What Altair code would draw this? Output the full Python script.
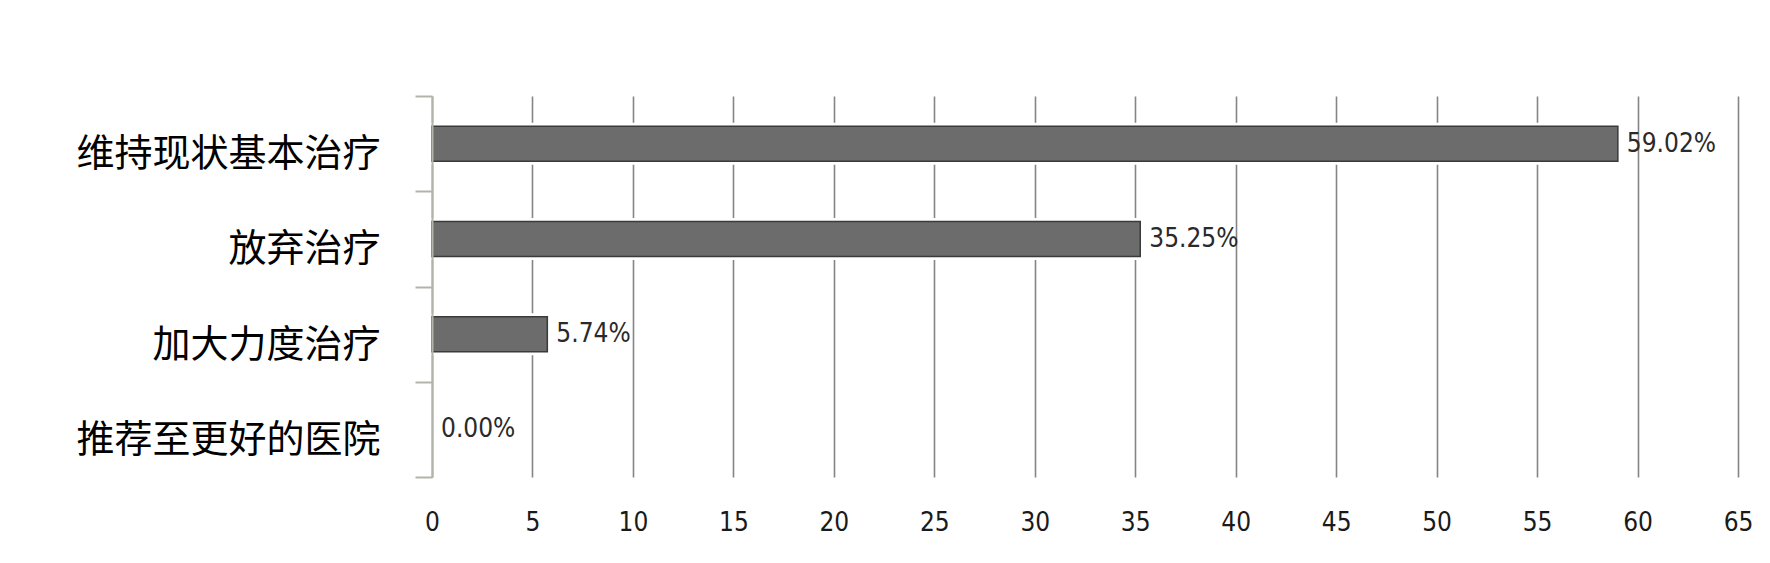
import altair as alt
import pandas as pd

categories = ["维持现状基本治疗", "放弃治疗", "加大力度治疗", "推荐至更好的医院"]
values = [59.02, 35.25, 5.74, 0.00]
labels = ["59.02%", "35.25%", "5.74%", "0.00%"]
x_ticks = list(range(0, 70, 5))

df = pd.DataFrame({"cat": categories, "value": values, "label": labels})

FONT_NUM = "'DejaVu Sans Condensed', 'Liberation Sans Narrow', 'Liberation Sans', sans-serif"
FONT_CJK = "Noto Sans CJK SC"

y_enc = alt.Y(
    "cat:N",
    sort=None,
    title=None,
    scale=alt.Scale(paddingInner=0, paddingOuter=0),
    axis=alt.Axis(
        tickBand="extent",
        domainColor="#b2b3aa",
        domainWidth=2,
        tickColor="#b2b3aa",
        tickWidth=2,
        tickSize=17,
        labelFont=FONT_CJK,
        labelFontSize=38,
        labelColor="#000000",
        labelPadding=35,
        labelOffset=11,
        labelLimit=0,
        grid=False,
        zindex=1,
    ),
)

x_enc = alt.X(
    "value:Q",
    title=None,
    scale=alt.Scale(domain=[0, 65], nice=False, zero=True),
    axis=alt.Axis(
        values=x_ticks,
        grid=True,
        gridColor="#858585",
        gridWidth=1.6,
        domain=False,
        ticks=False,
        labelFont=FONT_NUM,
        labelFontSize=26,
        labelColor="#1a1a1a",
        labelPadding=32,
        labelFlush=False,
        format="d",
    ),
)

base = alt.Chart(df)

halo = base.transform_filter("datum.value > 0").mark_bar(
    size=35, fill="#6c6c6c", stroke="#ffffff", strokeWidth=7
).encode(x=x_enc, y=y_enc)

bars = base.transform_filter("datum.value > 0").mark_bar(
    size=35, fill="#6c6c6c", stroke="#3a3a3a", strokeWidth=1.5
).encode(x=x_enc, y=y_enc)

text = base.mark_text(
    align="left", baseline="middle", dx=9, font=FONT_NUM, fontSize=26, color="#2a2a2a"
).encode(x=x_enc, y=y_enc, text="label:N")

chart = (
    alt.layer(halo, bars, text)
    .properties(
        width=1306,
        height=381,
        autosize=alt.AutoSizeParams(type="none"),
        padding={"left": 424, "top": 88, "right": 20, "bottom": 70},
        background="#ffffff",
    )
    .configure_view(stroke=None)
)

chart.save("out.html", embed_options={"renderer": "svg", "actions": False})
